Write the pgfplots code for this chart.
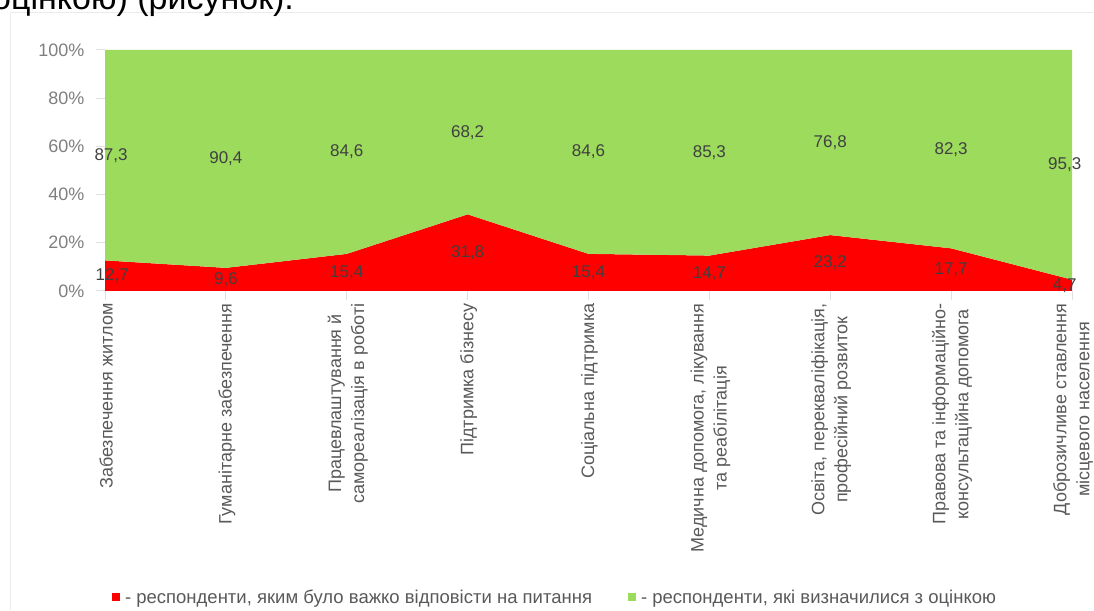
\documentclass[border=0pt]{standalone}
\usepackage{fontspec}
\setmainfont{Liberation Sans}
\usepackage{pgfplots}
\pgfplotsset{compat=1.18}
\usepackage{pgfplotstable}

\definecolor{barred}{HTML}{FF0000}
\definecolor{bargreen}{HTML}{9CDB5C}
\definecolor{ticktext}{HTML}{7F7F7F}
\definecolor{cattext}{HTML}{595959}
\definecolor{valtext}{HTML}{404040}

% x, hard to answer (red), decided (green)
\pgfplotstableread{
x red green
0 12.7 87.3
1 9.6 90.4
2 15.4 84.6
3 31.8 68.2
4 15.4 84.6
5 14.7 85.3
6 23.2 76.8
7 17.7 82.3
8 4.7 95.3
}\data

\begin{document}
\begin{tikzpicture}
\draw[black!8, line width=1pt] (10pt,0pt) -- (10pt,597pt) -- (1100pt,597pt);
\node[anchor=base west, inner sep=0pt, font=\fontsize{34}{40}\selectfont]
  at (-8pt,600pt) {оцінкою) (рисунок).};

\begin{axis}[
  at={(105pt,319pt)}, anchor=south west,
  width=967pt, height=241pt, scale only axis,
  xmin=0, xmax=8, ymin=0, ymax=100,
  axis lines=left,
  axis line style={draw=none},
  clip=false,
  xtick={0,...,8},
  ytick={0,20,...,100},
  tick align=outside,
  major tick length=9pt,
  tick style={black!12, line width=1pt},
  yticklabel={\pgfmathprintnumber[assume math mode=true]{\tick}\%},
  yticklabel style={font=\fontsize{18}{20}\selectfont, text=ticktext, xshift=-8pt},
  xticklabels={
    Забезпечення житлом,
    Гуманітарне забезпечення,
    {Працевлаштування й\\[2pt]самореалізація в роботі},
    Підтримка бізнесу,
    Соціальна підтримка,
    {Медична допомога, лікування\\[2pt]та реабілітація},
    {Освіта, перекваліфікація,\\[2pt]професійний розвиток},
    {Правова та інформаційно-\\[2pt]консультаційна допомога},
    {Доброзичливе ставлення\\[2pt]місцевого населення}},
  xticklabel style={rotate=90, anchor=east, align=center,
    font=\fontsize{18}{21}\selectfont, text=cattext, yshift=-1pt},
  legend style={at={(0.004,-1.27)}, anchor=west, draw=none, fill=none,
    legend columns=2, font=\fontsize{18.5}{20}\selectfont, text=cattext,
    /tikz/every even column/.append style={column sep=34pt}},
  legend image code/.code={\fill[#1] (0pt,-4pt) rectangle (8pt,4pt);},
  label/.style={draw=none, mark=none, forget plot, point meta=explicit,
    nodes near coords={\pgfmathprintnumber[fixed, fixed zerofill,
      precision=1, use comma, assume math mode=true]{\pgfplotspointmeta}},
    every node near coord/.append style={anchor=center,
      font=\fontsize{17}{18}\selectfont, text=valtext}},
]
\addplot[stack plots=y, fill=barred, draw=none] table[x=x, y=red] {\data} \closedcycle;
\addlegendentry{\hspace{3pt}- респонденти, яким було важко відповісти на питання}
\addplot[stack plots=y, fill=bargreen, draw=none] table[x=x, y=green] {\data} \closedcycle;
\addlegendentry{\hspace{3pt}- респонденти, які визначилися з оцінкою}

% value labels in the middle of each band, edge ones pulled inwards
\addplot[label] table[x expr={\thisrow{x}+(\thisrow{x}==0)*0.06-(\thisrow{x}==8)*0.06},
  y expr=\thisrow{red}/2, meta=red] {\data};
\addplot[label] table[x expr={\thisrow{x}+(\thisrow{x}==0)*0.05-(\thisrow{x}==8)*0.06},
  y expr=\thisrow{red}+\thisrow{green}/2, meta=green] {\data};
\end{axis}

\pgfresetboundingbox
\path[use as bounding box] (0pt,0pt) rectangle (1094pt,610pt);
\end{tikzpicture}
\end{document}
